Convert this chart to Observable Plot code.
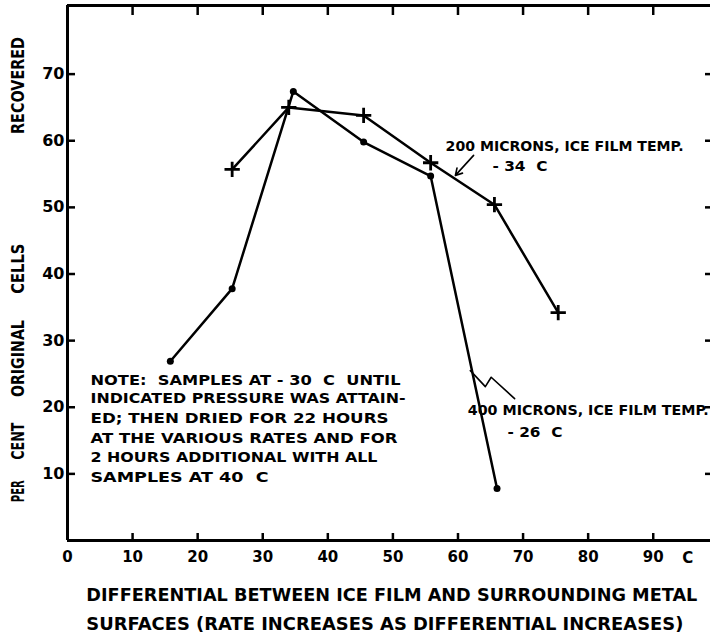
<!DOCTYPE html>
<html>
<head>
<meta charset="utf-8">
<script src="https://cdn.jsdelivr.net/npm/d3@7"></script>
<script src="https://cdn.jsdelivr.net/npm/@observablehq/plot@0.6"></script>
<style>
  html, body { margin: 0; padding: 0; background: #fff; }
  svg { display: block; }
</style>
</head>
<body>
<div id="chart"></div>
<script>
// ---- data ----
const diff400 = [15.8, 25.3, 34.7, 45.5, 55.8, 66.0];
const pct400  = [26.9, 37.8, 67.4, 59.8, 54.7, 7.8];
const diff200 = [25.3, 34.0, 45.5, 55.8, 65.6, 75.4];
const pct200  = [55.7, 65.0, 63.8, 56.7, 50.4, 34.2];

const xTicks = [0, 10, 20, 30, 40, 50, 60, 70, 80, 90];
const yTicks = [10, 20, 30, 40, 50, 60, 70];
const xInner = [10, 20, 30, 40, 50, 60, 70, 80, 90];

const yLabelWords = ["PER", "CENT", "ORIGINAL", "CELLS", "RECOVERED"];
const yLabelPos = [7.4, 14.9, 27.3, 40.8, 68.3];
const xLabelLines = [
  "DIFFERENTIAL BETWEEN ICE FILM AND SURROUNDING METAL",
  "SURFACES (RATE INCREASES AS DIFFERENTIAL INCREASES)"
];
const xLabelY = [-8.25, -12.6];
const noteLines = [
  "NOTE:  SAMPLES AT - 30  C  UNTIL",
  "INDICATED PRESSURE WAS ATTAIN-",
  "ED; THEN DRIED FOR 22 HOURS",
  "AT THE VARIOUS RATES AND FOR",
  "2 HOURS ADDITIONAL WITH ALL",
  "SAMPLES AT 40  C"
];
const noteY = [24.0, 21.3, 18.3, 15.3, 12.5, 9.5];

const label200 = ["200 MICRONS, ICE FILM TEMP.", "- 34  C"];
const label200Pos = [[58.1, 59.2], [65.3, 56.2]];
const label400 = ["400 MICRONS, ICE FILM TEMP.", "- 26  C"];
const label400Pos = [[61.5, 19.5], [67.6, 16.2]];
const arrow200 = {x1: 62.4, y1: 57.8, x2: 59.6, y2: 54.8};
const squiggleX = [61.9, 64.2, 65.1, 68.7];
const squiggleY = [25.5, 23.1, 24.5, 21.3];

// target text widths (px) to mimic the hand lettering
const textWidths = {
  "PER": 22, "CENT": 37, "ORIGINAL": 77, "CELLS": 50, "RECOVERED": 97,
  [xLabelLines[0]]: 611, [xLabelLines[1]]: 597,
  [noteLines[0]]: 310, [noteLines[1]]: 315, [noteLines[2]]: 298,
  [noteLines[3]]: 307, [noteLines[4]]: 287, [noteLines[5]]: 178,
  [label200[0]]: 238, [label200[1]]: 55, [label400[0]]: 241, [label400[1]]: 55
};

const s400 = diff400.map((x, i) => ({x, y: pct400[i]}));
const s200 = diff200.map((x, i) => ({x, y: pct200[i]}));
const squiggle = squiggleX.map((x, i) => ({x, y: squiggleY[i]}));

const W = 710, H = 638;
const mL = 67, mR = 0, mT = 5, mB = 98;
const fw = W - mL - mR, fh = H - mT - mB;
const yMax = 80.3;

const font = {fontWeight: "bold", fill: "black"};

const plot = Plot.plot({
  width: W, height: H,
  marginLeft: mL, marginRight: mR, marginTop: mT, marginBottom: mB,
  x: {domain: [0, 98.8]},
  y: {domain: [0, yMax]},
  style: {fontFamily: "DejaVu Sans", background: "white", color: "black"},
  marks: [
    // frame (left, bottom, top)
    Plot.ruleX([0], {strokeWidth: 3}),
    Plot.ruleY([0], {strokeWidth: 3}),
    Plot.ruleY([yMax], {strokeWidth: 3}),
    // inward ticks
    Plot.tickX(xInner, {x: d => d, insetTop: fh - 7, strokeWidth: 2.5}),
    Plot.tickX(xInner, {x: d => d, insetBottom: fh - 10, strokeWidth: 2.5}),
    Plot.tickY(yTicks, {y: d => d, insetRight: fw - 8, strokeWidth: 2.5}),
    Plot.tickY(yTicks, {y: d => d, insetLeft: fw - 5, strokeWidth: 2.5}),
    // tick labels
    Plot.axisX(xTicks, {tickSize: 0, tickPadding: 11, fontSize: 15, fontWeight: "bold", label: null, tickFormat: d => String(d)}),
    Plot.text(["C"], {x: 95.3, y: 0, dy: 18, fontSize: 15, ...font}),
    Plot.axisY(yTicks, {tickSize: 0, tickPadding: 3, fontSize: 16, fontWeight: "bold", label: null, tickFormat: d => String(d)}),
    // axis titles
    Plot.text(yLabelWords, {x: 0, y: (d, i) => yLabelPos[i], text: d => d, dx: -49, rotate: -90, fontSize: 17, ...font}),
    Plot.text(xLabelLines, {x: 2.9, y: (d, i) => xLabelY[i], text: d => d, textAnchor: "start", fontSize: 18, ...font}),
    // data lines
    Plot.line(s400, {x: "x", y: "y", strokeWidth: 2.5}),
    Plot.dot(s400, {x: "x", y: "y", r: 3.5, fill: "black"}),
    Plot.line(s200, {x: "x", y: "y", strokeWidth: 2.5}),
    Plot.dot(s200, {x: "x", y: "y", symbol: "plus", r: 5, stroke: "black", strokeWidth: 2.8}),
    // annotations
    Plot.text(label200, {x: (d, i) => label200Pos[i][0], y: (d, i) => label200Pos[i][1], text: d => d, textAnchor: "start", fontSize: 14, ...font}),
    Plot.arrow([arrow200], {x1: "x1", y1: "y1", x2: "x2", y2: "y2", strokeWidth: 1.6, headLength: 7}),
    Plot.text(label400, {x: (d, i) => label400Pos[i][0], y: (d, i) => label400Pos[i][1], text: d => d, textAnchor: "start", fontSize: 14, ...font}),
    Plot.line(squiggle, {x: "x", y: "y", strokeWidth: 1.6}),
    Plot.text(noteLines, {x: 0, y: (d, i) => noteY[i], text: d => d, dx: 23, textAnchor: "start", fontSize: 14, ...font})
  ]
});

d3.select(plot).selectAll("text").each(function() {
  const t = this.textContent;
  if (textWidths[t] !== undefined) {
    this.setAttribute("textLength", textWidths[t]);
    this.setAttribute("lengthAdjust", "spacingAndGlyphs");
  }
});
document.getElementById("chart").appendChild(plot);
</script>
</body>
</html>
